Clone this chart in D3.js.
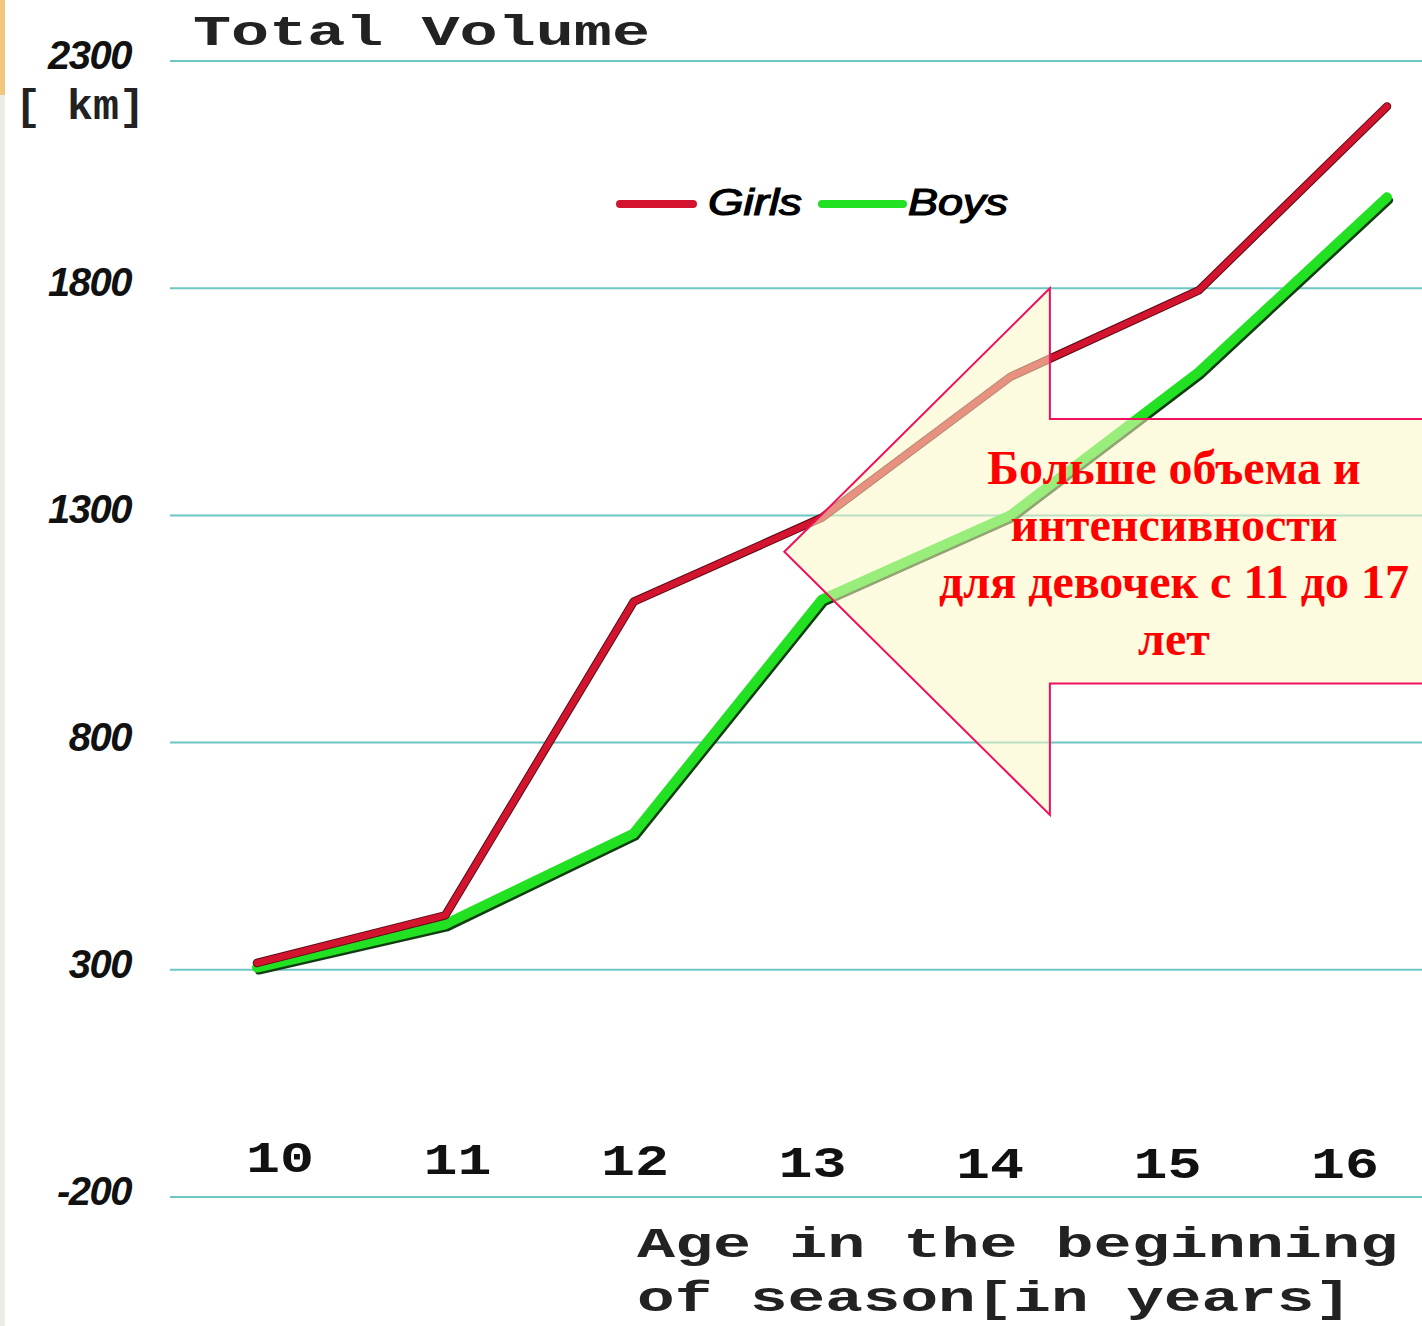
<!DOCTYPE html>
<html>
  <head>
    <meta charset="utf-8">
    <title>Total Volume</title>
    <script src="https://d3js.org/d3.v7.min.js"></script>
    <style>
      body { margin: 0; background: #fff; }
    </style>
  </head>
  <body>
    <svg width="1422" height="1326"></svg>

    <script>
      // data
      const ages = [10, 11, 12, 13, 14, 15, 16];
      const girls = [315, 420, 1110, 1295, 1605, 1795, 2200];
      const boys = [305, 400, 600, 1115, 1300, 1615, 2000];
      const yTicks = [2300, 1800, 1300, 800, 300, -200];
      const noteLines = ["Больше объема и", "интенсивности", "для девочек с 11 до 17", "лет"];

      const svg = d3.select("svg");

      // scales
      const x = d3.scaleLinear().domain([10, 16]).range([257, 1387]);
      const xLabel = d3.scaleLinear().domain([10, 16]).range([280, 1345]); // tick labels sit a bit off the points
      const y = d3.scaleLinear().domain([-200, 2300]).range([1197, 61]);

      // little strip on the left edge (slide border)
      svg.append("rect").attr("x", 0).attr("y", 0).attr("width", 5).attr("height", 1326).attr("fill", "#ecebe4");
      svg.append("rect").attr("x", 0).attr("y", 0).attr("width", 5).attr("height", 95).attr("fill", "#f2c77c");

      // grid lines
      svg.selectAll("line.grid")
        .data(yTicks)
        .enter()
        .append("line")
          .attr("class", "grid")
          .attr("x1", 170).attr("x2", 1422)
          .attr("y1", d => y(d)).attr("y2", d => y(d))
          .attr("stroke", "#6cc6c4")
          .attr("stroke-width", 2);

      // y labels
      svg.selectAll("text.ylab")
        .data(yTicks)
        .enter()
        .append("text")
          .attr("class", "ylab")
          .attr("x", 131)
          .attr("y", d => y(d) + 8)
          .attr("text-anchor", "end")
          .attr("font-family", "Liberation Sans, Arial, sans-serif")
          .attr("font-weight", "bold")
          .attr("font-style", "italic")
          .attr("font-size", 40)
          .attr("letter-spacing", -1.5)
          .attr("fill", "#111")
          .text(d => d);

      // titles, mono style
      const mono = "Liberation Mono, Courier New, monospace";
      svg.append("text")
        .attr("x", 193).attr("y", 45)
        .attr("font-family", mono).attr("font-weight", "bold").attr("font-size", 42)
        .attr("textLength", 457).attr("lengthAdjust", "spacingAndGlyphs")
        .attr("fill", "#222")
        .text("Total Volume");

      svg.append("text")
        .attr("x", 15).attr("y", 119)
        .attr("font-family", mono).attr("font-weight", "bold").attr("font-size", 42)
        .attr("textLength", 130).attr("lengthAdjust", "spacingAndGlyphs")
        .attr("fill", "#222")
        .text("[ km]");

      // x tick labels
      svg.selectAll("text.xlab")
        .data(ages)
        .enter()
        .append("text")
          .attr("class", "xlab")
          .attr("x", d => xLabel(d))
          .attr("y", (d, i) => 1172 + Math.min(i, 4) * 1.5)
          .attr("text-anchor", "middle")
          .attr("font-family", mono)
          .attr("font-weight", "bold")
          .attr("font-size", 44)
          .attr("textLength", 68).attr("lengthAdjust", "spacingAndGlyphs")
          .attr("fill", "#111")
          .text(d => d);

      svg.append("text")
        .attr("x", 637).attr("y", 1257)
        .attr("font-family", mono).attr("font-weight", "bold").attr("font-size", 42)
        .attr("textLength", 761).attr("lengthAdjust", "spacingAndGlyphs")
        .attr("fill", "#222")
        .text("Age in the beginning");

      svg.append("text")
        .attr("x", 637).attr("y", 1311)
        .attr("font-family", mono).attr("font-weight", "bold").attr("font-size", 42)
        .attr("textLength", 715).attr("lengthAdjust", "spacingAndGlyphs")
        .attr("fill", "#222")
        .text("of season[in years]");

      // lines
      const line = d3.line()
        .x((d, i) => x(ages[i]))
        .y(d => y(d));

      // boys: dark edge then green
      svg.append("path")
        .attr("d", line(boys))
        .attr("transform", "translate(2,3)")
        .attr("fill", "none")
        .attr("stroke", "#123c12")
        .attr("stroke-width", 8)
        .attr("stroke-linejoin", "round")
        .attr("stroke-linecap", "round");
      svg.append("path")
        .attr("d", line(boys))
        .attr("fill", "none")
        .attr("stroke", "#22e022")
        .attr("stroke-width", 10)
        .attr("stroke-linejoin", "round")
        .attr("stroke-linecap", "round");

      svg.append("path")
        .attr("d", line(girls))
        .attr("fill", "none")
        .attr("stroke", "#5a0a14")
        .attr("stroke-width", 8.5)
        .attr("stroke-linejoin", "round")
        .attr("stroke-linecap", "round");
      svg.append("path")
        .attr("d", line(girls))
        .attr("fill", "none")
        .attr("stroke", "#d3142e")
        .attr("stroke-width", 6.5)
        .attr("stroke-linejoin", "round")
        .attr("stroke-linecap", "round");

      // legend
      const legend = [
        { name: "Girls", color: "#d3142e", x0: 620, x1: 693, tx: 708, len: 94 },
        { name: "Boys", color: "#22e022", x0: 822, x1: 903, tx: 908, len: 100 }
      ];
      legend.forEach(l => {
        svg.append("line")
          .attr("x1", l.x0).attr("x2", l.x1)
          .attr("y1", 204).attr("y2", 204)
          .attr("stroke", l.color)
          .attr("stroke-width", 8)
          .attr("stroke-linecap", "round");
        svg.append("text")
          .attr("x", l.tx).attr("y", 215)
          .attr("font-family", "Liberation Sans, Arial, sans-serif")
          .attr("font-style", "italic")
          .attr("font-size", 36)
          .attr("textLength", l.len).attr("lengthAdjust", "spacingAndGlyphs")
          .attr("stroke", "#000").attr("stroke-width", 1.2)
          .attr("fill", "#000")
          .text(l.name);
      });

      // arrow callout, placed in data units
      const arrow = [
        [12.8, 1220], [14.21, 1800], [14.21, 1512], [16.2, 1512],
        [16.2, 930], [14.21, 930], [14.21, 641]
      ];
      svg.append("polygon")
        .attr("points", arrow.map(p => [x(p[0]), y(p[1])].join(",")).join(" "))
        .attr("fill", "#fbf7c4")
        .attr("fill-opacity", 0.55)
        .attr("stroke", "#f0105e")
        .attr("stroke-width", 2);

      svg.selectAll("text.note")
        .data(noteLines)
        .enter()
        .append("text")
          .attr("class", "note")
          .attr("x", 1174)
          .attr("y", (d, i) => 484 + i * 57)
          .attr("text-anchor", "middle")
          .attr("font-family", "Liberation Serif, Times New Roman, serif")
          .attr("font-weight", "bold")
          .attr("font-size", 48)
          .attr("fill", "#ff0000")
          .text(d => d);
    </script>
  </body>
</html>
